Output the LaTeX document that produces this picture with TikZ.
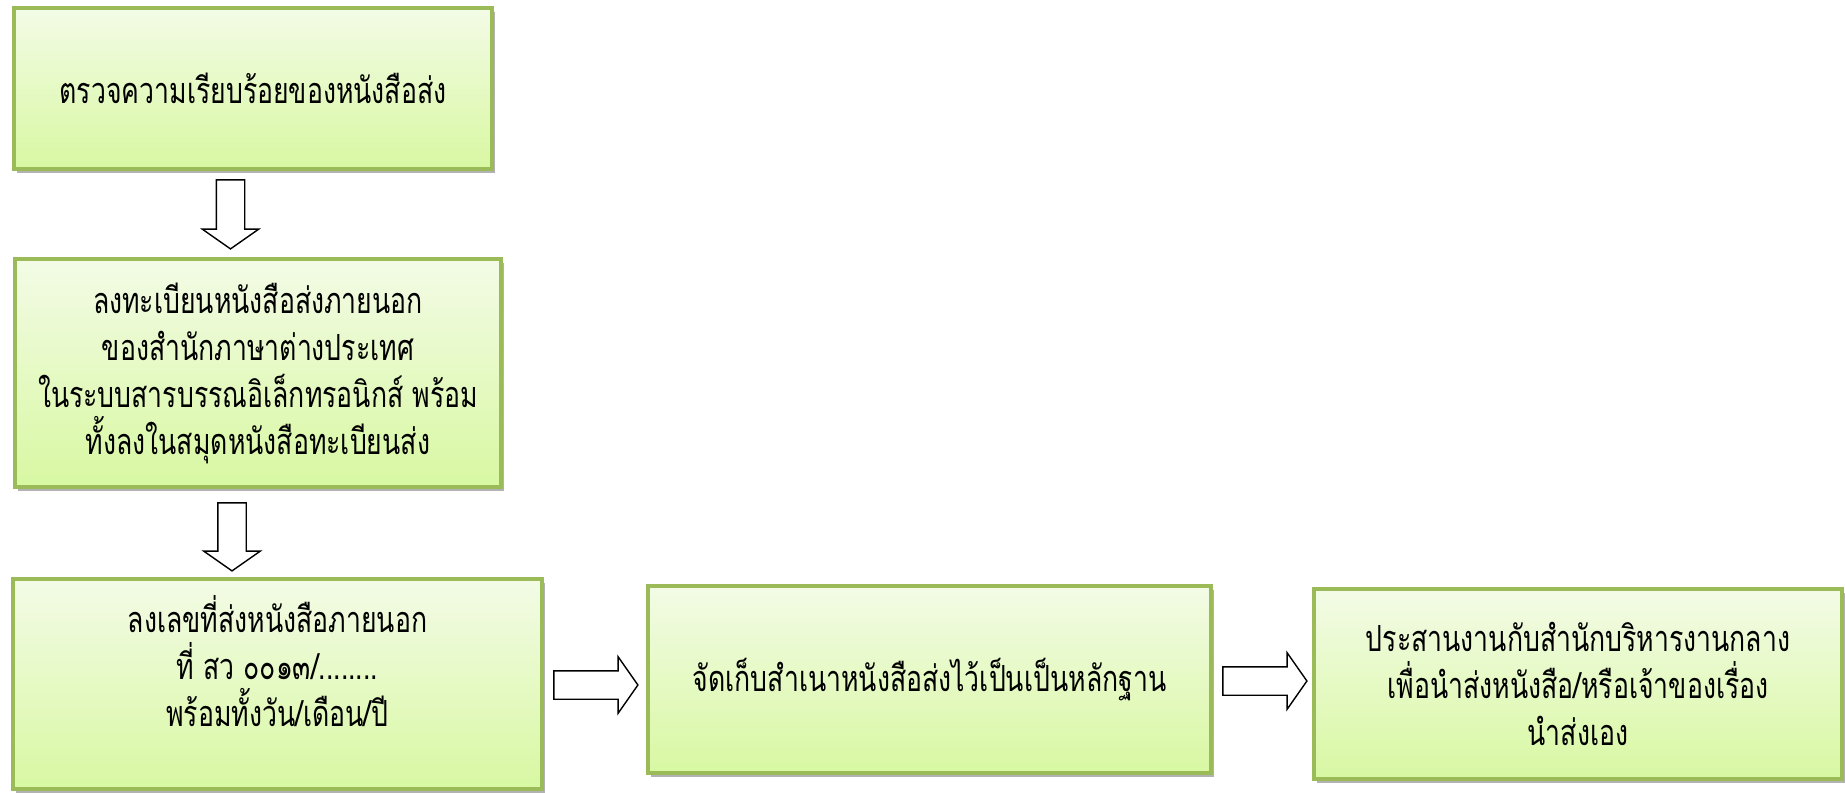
\documentclass[tikz,border=0pt]{standalone}
\usepackage{fontspec}
\newfontfamily\thaifont[Script=Thai,FakeStretch=0.74]{Loma}
\usepackage{tikz}
\usetikzlibrary{calc,shapes.arrows,shadows}
\definecolor{leafx}{HTML}{9BBB59}
\definecolor{toplt}{HTML}{F3FBE6}
\definecolor{botlt}{HTML}{D8F8A2}
\tikzset{
  stepbox/.style={draw=leafx,line width=2.2pt,top color=toplt,bottom color=botlt,align=center,inner sep=0pt,
    font=\thaifont\fontsize{18pt}{23.5pt}\selectfont,
    drop shadow={shadow xshift=1.5pt,shadow yshift=-2pt,fill=black,opacity=0.3}},
  hollow/.style={single arrow,draw=black,line width=0.7pt,fill=white,inner xsep=0pt,inner ysep=6.75pt,
    minimum width=27.5pt,single arrow head extend=7pt,single arrow tip angle=110,anchor=tail}
}

\begin{document}
\begin{tikzpicture}[x=0.5pt,y=-0.5pt]
\useasboundingbox (0,0) rectangle (1845,792);
\node[stepbox,minimum width=239pt,minimum height=80.5pt] (chk) at (253,88.5) {ตรวจความเรียบร้อยของหนังสือส่ง};
\node[stepbox,minimum width=243pt,minimum height=114pt] (reg) at (258,373) {ลงทะเบียนหนังสือส่งภายนอก\\ของสำนักภาษาต่างประเทศ\\ในระบบสารบรรณอิเล็กทรอนิกส์ พร้อม\\ทั้งลงในสมุดหนังสือทะเบียนส่ง};
\node[stepbox,minimum width=264.5pt,minimum height=105pt] (num) at (277.5,684) {ลงเลขที่ส่งหนังสือภายนอก\\ที่ สว ๐๐๑๓/........\\พร้อมทั้งวัน/เดือน/ปี\\ \mbox{}};
\node[stepbox,minimum width=281.5pt,minimum height=93.5pt] (keep) at (929.5,679.5) {จัดเก็บสำเนาหนังสือส่งไว้เป็นเป็นหลักฐาน};
\node[stepbox,minimum width=264pt,minimum height=95pt] (coord) at (1578,684) {ประสานงานกับสำนักบริหารงานกลาง\\เพื่อนำส่งหนังสือ/หรือเจ้าของเรื่อง\\นำส่งเอง};
\node[hollow,rotate=-90,minimum height=34.5pt] (a1) at ($(chk.south)+(-22.5,8)$) {};
\node[hollow,rotate=-90,minimum height=34pt] (a2) at ($(reg.south)+(-26,13)$) {};
\node[hollow,minimum height=42pt] (a3) at ($(num.east)+(9,1)$) {};
\node[hollow,minimum height=42pt] (a4) at ($(keep.east)+(9,1.5)$) {};
\end{tikzpicture}
\end{document}
